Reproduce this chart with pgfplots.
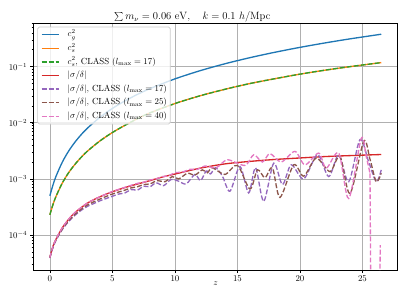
\documentclass[border=0pt]{standalone}
\usepackage{pgfplots}
\pgfplotsset{compat=1.18}
\definecolor{c0}{HTML}{1F77B4}
\definecolor{c1}{HTML}{FF7F0E}
\definecolor{c2}{HTML}{2CA02C}
\definecolor{c3}{HTML}{D62728}
\definecolor{c4}{HTML}{9467BD}
\definecolor{c5}{HTML}{8C564B}
\definecolor{c6}{HTML}{E377C2}
\definecolor{gridc}{HTML}{B0B0B0}
\definecolor{legc}{HTML}{CCCCCC}
\tikzset{mpldash/.style={dash pattern=on 5.55pt off 2.4pt}}
\begin{document}
\begin{tikzpicture}
\begin{axis}[
  name=ax, at={(0,0)}, anchor=south west,
  width=412.7pt, height=279.7pt, scale only axis,
  xmin=-1.325, xmax=27.825, ymin=2.38e-5, ymax=0.60,
  ymode=log,
  xtick={0,5,10,15,20,25},
  grid=major,
  major grid style={line width=0.8pt, color=gridc},
  axis line style={line width=0.8pt},
  tick align=outside, tick pos=left,
  major tick length=3.5pt, minor tick length=2pt,
  every major tick/.append style={line width=0.8pt, black},
  every minor tick/.append style={line width=0.6pt, black},
  xlabel={$z$},
  xlabel style={yshift=7.5pt},
  title={$\sum m_\nu = 0.06\ \mathrm{eV},\quad k = 0.1\ h/\mathrm{Mpc}$},
  title style={font=\large, at={(0.4362,1)}, anchor=south, inner sep=0pt, yshift=-5.5pt},
  legend style={at={(0.0109,0.985)}, anchor=north west, draw=legc, line width=0.8pt,
    rounded corners=2pt, fill=white, fill opacity=0.8, text opacity=1, draw opacity=1,
    inner xsep=3.85pt, inner ysep=1pt, row sep=0pt,
    nodes={inner xsep=0pt, inner ysep=2.7pt, text height=7.5pt, text depth=2.5pt}},
  legend cell align=left,
  legend image code/.code={\draw[#1, line width=1.5pt, sharp corners] (0pt,0pt) -- (20pt,0pt); \path (28.7pt,0pt);},
]
\addplot[c0, line width=1.5pt, smooth] coordinates {
(0,5.0e-4) (0.25,7.81e-4) (0.5,1.125e-3) (1,2.0e-3) (1.5,3.125e-3) (2,4.5e-3) (2.5,6.125e-3) (3,8.0e-3) (4,0.0125) (5,0.018) (6,0.0245) (7,0.032) (8,0.0405) (10,0.0605) (12,0.0845) (14,0.1125) (16,0.1445) (18,0.1805) (20,0.2205) (22,0.2645) (24,0.3125) (26.5,0.378)};
\addlegendentry{$c_g^2$}
\addplot[c1, line width=1.5pt, smooth] coordinates {
(0,2.3e-4) (0.25,3.5e-4) (0.5,4.93e-4) (1,8.47e-4) (1.5,1.29e-3) (2,1.81e-3) (2.5,2.42e-3) (3,3.12e-3) (4,4.74e-3) (5,6.7e-3) (6,9.0e-3) (7,0.0118) (8,0.0150) (10,0.0220) (12,0.0302) (14,0.0395) (16,0.0500) (18,0.0610) (20,0.0735) (22,0.0865) (24,0.1000) (26.5,0.118)};
\addlegendentry{$c_s^2$}
\addplot[c2, line width=1.5pt, mpldash, smooth] coordinates {
(0,2.3e-4) (0.25,3.5e-4) (0.5,4.93e-4) (1,8.47e-4) (1.5,1.29e-3) (2,1.81e-3) (2.5,2.42e-3) (3,3.12e-3) (4,4.74e-3) (5,6.7e-3) (6,9.0e-3) (7,0.0118) (8,0.0150) (10,0.0220) (12,0.0302) (14,0.0395) (16,0.0500) (18,0.0610) (20,0.0735) (22,0.0865) (24,0.1000) (26.5,0.118)};
\addlegendentry{$c_s^2$, CLASS ($l_{\max} = 17$)}
\addplot[c3, line width=1.5pt, smooth] coordinates {
(0,4.0e-5) (0.25,6.3e-5) (0.5,8.5e-5) (1,1.35e-4) (1.5,1.9e-4) (2,2.5e-4) (3,3.7e-4) (4,4.8e-4) (5,5.9e-4) (6,7.0e-4) (7,8.1e-4) (8,9.3e-4) (9,1.08e-3) (10,1.22e-3) (12,1.55e-3) (14,1.85e-3) (16,2.05e-3) (18,2.22e-3) (20,2.36e-3) (22,2.5e-3) (24,2.6e-3) (26.5,2.72e-3)};
\addlegendentry{$|\sigma/\delta|$}
\addplot[c4, line width=1.5pt, mpldash, smooth] coordinates {
(0,3.89e-5) (0.25,6.0e-5) (0.5,8.13e-5) (1,1.26e-4) (1.5,1.74e-4) (2,2.24e-4) (2.5,2.75e-4) (3,3.24e-4) (3.5,3.63e-4) (4,4.07e-4) (4.5,4.47e-4) (5,4.90e-4) (5.5,5.37e-4) (6,5.62e-4) (6.5,6.46e-4) (7,6.31e-4) (7.5,7.41e-4) (8,7.24e-4) (8.5,8.51e-4) (9.1,7.59e-4) (9.7,9.77e-4) (10.3,9.1e-4) (10.9,8.13e-4) (11.6,1.20e-3) (12.05,9.33e-4) (12.5,1.38e-3) (12.85,1.23e-3) (13.25,1.58e-3) (13.8,1.12e-3) (14.4,6.03e-4) (15.2,1.66e-3) (15.9,5.62e-4) (16.45,1.58e-3) (17.1,3.98e-4) (17.9,1.91e-3) (18.6,7.94e-4) (19.3,1.78e-3) (20.3,1.00e-3) (21.4,2.69e-3) (22.3,1.10e-3) (23.1,2.69e-3) (23.9,8.91e-4) (24.8,5.01e-3) (25.5,2.0e-3) (26.1,8.91e-4) (26.5,1.45e-3)};
\addlegendentry{$|\sigma/\delta|$, CLASS ($l_{\max} = 17$)}
\addplot[c5, line width=1.5pt, mpldash, smooth] coordinates {
(0,3.98e-5) (0.25,6.2e-5) (0.5,8.32e-5) (1,1.29e-4) (1.5,1.80e-4) (2,2.34e-4) (2.5,2.88e-4) (3,3.43e-4) (4,4.37e-4) (5,5.37e-4) (6,6.31e-4) (6.5,6.92e-4) (7,7.24e-4) (7.5,7.94e-4) (8,8.13e-4) (8.6,9.33e-4) (9.2,8.91e-4) (9.8,1.10e-3) (10.3,1.0e-3) (11.0,1.26e-3) (11.6,1.17e-3) (12.2,1.45e-3) (12.6,1.29e-3) (13.0,1.58e-3) (14.0,1.20e-3) (15.0,1.74e-3) (16.0,6.61e-4) (16.6,1.45e-3) (17.2,1.05e-3) (17.8,1.58e-3) (18.4,4.68e-4) (19.5,1.78e-3) (20.3,1.12e-3) (21.3,2.34e-3) (22.4,1.35e-3) (23.2,2.51e-3) (24.0,5.50e-4) (25.1,4.68e-3) (25.6,2.24e-3) (26.1,8.91e-4) (26.5,1.26e-3)};
\addlegendentry{$|\sigma/\delta|$, CLASS ($l_{\max} = 25$)}
\addplot[c6, line width=1.5pt, mpldash, smooth] coordinates {
(0,3.98e-5) (0.25,6.3e-5) (0.5,8.51e-5) (1,1.35e-4) (1.5,1.91e-4) (2,2.51e-4) (3,3.72e-4) (4,4.79e-4) (5,5.96e-4) (6,7.08e-4) (7,8.32e-4) (7.5,8.71e-4) (8,9.55e-4) (8.5,1.00e-3) (9,1.10e-3) (9.5,1.135e-3) (10,1.29e-3) (10.6,1.32e-3) (11.2,1.48e-3) (11.8,1.48e-3) (12.4,1.70e-3) (13.3,1.58e-3) (14.2,2.19e-3) (15.6,1.74e-3) (16.3,2.69e-3) (17.0,2.00e-3) (17.6,2.82e-3) (18.5,2.00e-3) (19.6,3.09e-3) (20.4,1.78e-3) (21.5,2.88e-3) (22.1,1.55e-3) (23.1,2.88e-3) (23.9,4.47e-4) (24.9,5.25e-3) (25.3,2.5e-3) (25.6,1.26e-3)};
\addlegendentry{$|\sigma/\delta|$, CLASS ($l_{\max} = 40$)}
\addplot[c6, line width=1.5pt, mpldash, forget plot] coordinates {
(25.6,1.26e-3) (25.72,1e-7) (26.3,1e-7) (26.42,6.6e-5)};
\end{axis}
\pgfresetboundingbox
\path (-37.7pt,-39.6pt) rectangle (423.1pt,305.7pt);
\end{tikzpicture}
\end{document}
